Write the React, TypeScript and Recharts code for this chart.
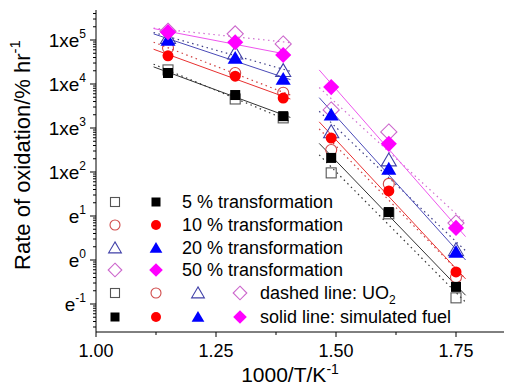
import React from "react";
import { ComposedChart, Line, Scatter, XAxis, YAxis } from "recharts";

const W = 506;
const H = 386;
const LEFT = 96;
const TOP = 10;
const RIGHT = 504;
const BOTTOM = 332;
const FONT = "'Liberation Sans', Arial, sans-serif";

// measured x positions (1000/T)
const xPoints = [1.15, 1.29, 1.39, 1.49, 1.61, 1.75];
// fitted line ends: low group start/end, high group start/end
const fitX = [1.12, 1.405, 1.465, 1.77];

// rate of oxidation, % per hour — simulated fuel (filled)
const fuel5 = [17800, 5620, 1860, 209, 12.3, 0.245];
const fuel10 = [43600, 15100, 4790, 589, 37.2, 0.537];
const fuel20 = [100000, 38900, 12900, 1995, 117, 1.51];
const fuel50 = [151000, 89100, 45700, 8510, 437, 5.37];

// UO2 (open)
const uo2_5 = [20900, 4570, 1700, 95.5, 11.2, 0.138];
const uo2_10 = [66100, 17800, 6310, 316, 53.7, 0.407];
const uo2_20 = [112000, 50100, 20000, 813, 186, 1.7];
const uo2_50 = [158000, 138000, 81300, 2570, 813, 6.92];

// fitted line values at fitX
const fuel5Fit = [24500, 1740, 447, 0.158];
const fuel10Fit = [61700, 4570, 1380, 0.372];
const fuel20Fit = [138000, 12600, 4900, 1.0];
const fuel50Fit = [182000, 45700, 20900, 3.39];
const uo2_5Fit = [28200, 1410, 245, 0.11];
const uo2_10Fit = [89100, 5620, 955, 0.372];
const uo2_20Fit = [148000, 19500, 2400, 1.62];
const uo2_50Fit = [186000, 87100, 8320, 7.08];

const labels = ["5 % transformation", "10 % transformation", "20 % transformation", "50 % transformation"];

const xTicks = [1, 1.125, 1.25, 1.375, 1.5, 1.625, 1.75];
const xMajor = [1, 1.25, 1.5, 1.75];
const xMajorLabels = ["1.00", "1.25", "1.50", "1.75"];

const yMajor = [0.1, 1, 10, 100, 1000, 10000, 100000];
const yBase = ["e", "e", "e", "1xe", "1xe", "1xe", "1xe"];
const ySup = ["-1", "0", "1", "2", "3", "4", "5"];
const yDomain = [0.0231, 481000];

const yMinor: number[] = [];
for (let d = -2; d <= 5; d++) {
  for (let k = 2; k <= 9; k++) {
    const v = k * Math.pow(10, d);
    if (v > yDomain[0] && v < yDomain[1]) yMinor.push(v);
  }
}
const yTicks = [...yMajor, ...yMinor].sort((a, b) => a - b);

type Kind = "square" | "circle" | "triangle" | "diamond";

const series = [
  { kind: "square" as Kind, fuel: fuel5, uo2: uo2_5, fuelFit: fuel5Fit, uo2Fit: uo2_5Fit, fill: "#000000", open: "#555555", solid: "#333333", dot: "#333333" },
  { kind: "circle" as Kind, fuel: fuel10, uo2: uo2_10, fuelFit: fuel10Fit, uo2Fit: uo2_10Fit, fill: "#ff0000", open: "#d04a4a", solid: "#e83030", dot: "#d04040" },
  { kind: "triangle" as Kind, fuel: fuel20, uo2: uo2_20, fuelFit: fuel20Fit, uo2Fit: uo2_20Fit, fill: "#0000ff", open: "#4040a8", solid: "#4a4ab8", dot: "#404088" },
  { kind: "diamond" as Kind, fuel: fuel50, uo2: uo2_50, fuelFit: fuel50Fit, uo2Fit: uo2_50Fit, fill: "#ff00ff", open: "#cc66cc", solid: "#ee55ee", dot: "#d070d0" },
];

function Mark({ cx, cy, kind, filled, color, s }: { cx: number; cy: number; kind: Kind; filled: boolean; color: string; s: number }) {
  const fill = filled ? color : "none";
  const stroke = color;
  const sw = filled ? 0 : 1.1;
  if (kind === "square") return <rect x={cx - s / 2} y={cy - s / 2} width={s} height={s} fill={fill} stroke={stroke} strokeWidth={sw} />;
  if (kind === "circle") return <circle cx={cx} cy={cy} r={s / 2} fill={fill} stroke={stroke} strokeWidth={sw} />;
  if (kind === "triangle") {
    const h = s * 0.55;
    return <polygon points={`${cx},${cy - h} ${cx - s * 0.58},${cy + h * 0.8} ${cx + s * 0.58},${cy + h * 0.8}`} fill={fill} stroke={stroke} strokeWidth={sw} />;
  }
  const r = s * 0.62;
  return <polygon points={`${cx},${cy - r} ${cx + r},${cy} ${cx},${cy + r} ${cx - r},${cy}`} fill={fill} stroke={stroke} strokeWidth={sw} />;
}

const plotSize: Record<Kind, number> = { square: 10, circle: 11, triangle: 13, diamond: 13 };
const legendSize: Record<Kind, number> = { square: 9, circle: 10, triangle: 11, diamond: 11 };

function YTick(props: any) {
  const { y, payload } = props;
  const i = yMajor.indexOf(payload.value);
  if (i < 0) return <line x1={LEFT - 3} x2={LEFT} y1={y} y2={y} stroke="#000" strokeWidth={1} />;
  return (
    <g>
      <line x1={LEFT - 6} x2={LEFT} y1={y} y2={y} stroke="#000" strokeWidth={1} />
      <text x={LEFT - 10} y={y + 7} textAnchor="end" fontFamily={FONT} fontSize={19} fill="#000">
        {yBase[i]}
        <tspan dy={-9} fontSize={12}>{ySup[i]}</tspan>
      </text>
    </g>
  );
}

function XTickBottom(props: any) {
  const { x, payload } = props;
  const i = xMajor.indexOf(payload.value);
  if (i < 0) return <line x1={x} x2={x} y1={BOTTOM} y2={BOTTOM + 3} stroke="#000" />;
  return (
    <g>
      <line x1={x} x2={x} y1={BOTTOM} y2={BOTTOM + 5} stroke="#000" />
      <text x={x} y={BOTTOM + 25} textAnchor="middle" fontFamily={FONT} fontSize={18} fill="#000">
        {xMajorLabels[i]}
      </text>
    </g>
  );
}

function XTickTop(props: any) {
  const { x, payload } = props;
  const major = xMajor.indexOf(payload.value) >= 0;
  return <line x1={x} x2={x} y1={TOP} y2={TOP + (major ? 5 : 4)} stroke="#000" />;
}

const pts = (vals: number[]) => xPoints.map((x, i) => ({ x, y: vals[i] }));
const seg = (vals: number[], a: number) => [
  { x: fitX[a], y: vals[a] },
  { x: fitX[a + 1], y: vals[a + 1] },
];

const legendRows = [202, 225, 248, 270, 293, 317];
const legendCols = [115, 156, 198, 240];

export default function App() {
  return (
    <div style={{ position: "absolute", left: 0, top: 0, width: W, height: H, background: "#fff" }}>
      <ComposedChart width={W} height={H} margin={{ top: TOP, right: W - RIGHT, bottom: 0, left: 0 }}>
        <XAxis
          xAxisId="b"
          dataKey="x"
          type="number"
          domain={[1, 1.85]}
          ticks={xTicks}
          height={H - BOTTOM}
          tickLine={false}
          tick={<XTickBottom />}
          axisLine={{ stroke: "#000" }}
          allowDataOverflow
        />
        <XAxis
          xAxisId="t"
          orientation="top"
          dataKey="x"
          type="number"
          domain={[1, 1.85]}
          ticks={xTicks}
          height={0}
          tickLine={false}
          tick={<XTickTop />}
          axisLine={{ stroke: "#000" }}
          allowDataOverflow
        />
        <YAxis
          yAxisId="l"
          dataKey="y"
          type="number"
          scale="log"
          domain={yDomain}
          ticks={yTicks}
          width={LEFT}
          tickLine={false}
          tick={<YTick />}
          axisLine={{ stroke: "#000" }}
          allowDataOverflow
          interval={0}
        />
        {series.map((s, si) =>
          [0, 2].map((a) => (
            <Line
              key={`u${si}${a}`}
              xAxisId="b"
              yAxisId="l"
              data={seg(s.uo2Fit, a)}
              dataKey="y"
              stroke={s.dot}
              strokeWidth={1.2}
              strokeDasharray="1.5 3.5"
              dot={false}
              isAnimationActive={false}
            />
          ))
        )}
        {series.map((s, si) =>
          [0, 2].map((a) => (
            <Line
              key={`f${si}${a}`}
              xAxisId="b"
              yAxisId="l"
              data={seg(s.fuelFit, a)}
              dataKey="y"
              stroke={s.solid}
              strokeWidth={1}
              dot={false}
              isAnimationActive={false}
            />
          ))
        )}
        {series.map((s, si) => (
          <Scatter
            key={`uo${si}`}
            xAxisId="b"
            yAxisId="l"
            data={pts(s.uo2)}
            dataKey="y"
            isAnimationActive={false}
            shape={(p: any) => <Mark cx={p.cx} cy={p.cy} kind={s.kind} filled={false} color={s.open} s={plotSize[s.kind]} />}
          />
        ))}
        {series.map((s, si) => (
          <Scatter
            key={`fu${si}`}
            xAxisId="b"
            yAxisId="l"
            data={pts(s.fuel)}
            dataKey="y"
            isAnimationActive={false}
            shape={(p: any) => <Mark cx={p.cx} cy={p.cy} kind={s.kind} filled={true} color={s.fill} s={plotSize[s.kind]} />}
          />
        ))}
      </ComposedChart>
      <svg width={W} height={H} style={{ position: "absolute", left: 0, top: 0, pointerEvents: "none" }}>
        <text transform="translate(30,155) rotate(-90)" textAnchor="middle" fontFamily={FONT} fontSize={22} fill="#000">
          Rate of oxidation/% hr<tspan dy={-10} fontSize={15}>-1</tspan>
        </text>
        <text x={290} y={382} textAnchor="middle" fontFamily={FONT} fontSize={21} fill="#000">
          1000/T/K<tspan dy={-8} fontSize={14}>-1</tspan>
        </text>
        {series.map((s, i) => (
          <g key={`lg${i}`}>
            <Mark cx={legendCols[0]} cy={legendRows[i]} kind={s.kind} filled={false} color={s.open} s={legendSize[s.kind]} />
            <Mark cx={legendCols[1]} cy={legendRows[i]} kind={s.kind} filled={true} color={s.fill} s={legendSize[s.kind]} />
            <text x={182} y={legendRows[i] + 6} fontFamily={FONT} fontSize={18} fill="#000">{labels[i]}</text>
            <Mark cx={legendCols[i]} cy={legendRows[4]} kind={s.kind} filled={false} color={s.open} s={legendSize[s.kind]} />
            <Mark cx={legendCols[i]} cy={legendRows[5]} kind={s.kind} filled={true} color={s.fill} s={legendSize[s.kind]} />
          </g>
        ))}
        <text x={260} y={legendRows[4] + 6} fontFamily={FONT} fontSize={18} fill="#000">
          dashed line: UO<tspan dy={5} fontSize={12}>2</tspan>
        </text>
        <text x={260} y={legendRows[5] + 6} fontFamily={FONT} fontSize={18} fill="#000">
          solid line: simulated fuel
        </text>
      </svg>
    </div>
  );
}
